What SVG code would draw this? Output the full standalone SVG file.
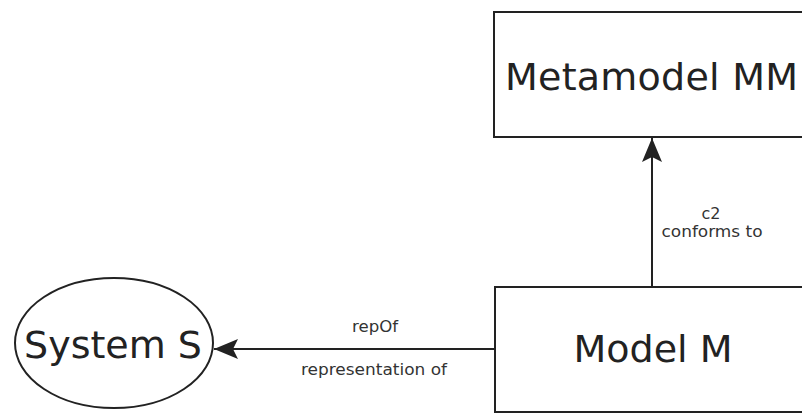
<svg xmlns="http://www.w3.org/2000/svg" width="802" height="419" viewBox="0 0 802 419">
<style>
.box{fill:#fff;stroke:#222;stroke-width:2}
.big{font-family:"DejaVu Sans",sans-serif;font-size:38px;fill:#222}
.lbl{font-family:"DejaVu Sans",sans-serif;font-size:16px;fill:#333}
.conn{stroke:#222;stroke-width:2;fill:none}
</style>
<defs>
<marker id="arr" viewBox="0 0 24 20" refX="24" refY="10" markerWidth="24" markerHeight="20" markerUnits="userSpaceOnUse" orient="auto">
<path d="M0,0 L24,10 L0,20 L5,10 Z" fill="#222"/>
</marker>
</defs>
<rect width="802" height="419" fill="#fff"/>
<g id="metamodel">
<rect class="box" x="494" y="12" width="320" height="125"/>
<text class="big" x="505" y="90" textLength="293">Metamodel MM</text>
</g>
<g id="model">
<rect class="box" x="495" y="287" width="320" height="125"/>
<text class="big" x="653" y="362" text-anchor="middle">Model M</text>
</g>
<g id="system">
<ellipse class="box" cx="114" cy="343" rx="99" ry="65"/>
<text class="big" x="113" y="358" text-anchor="middle">System S</text>
</g>
<g id="connectors">
<line class="conn" x1="495" y1="349" x2="214" y2="349" marker-end="url(#arr)"/>
<line class="conn" x1="652" y1="287" x2="652" y2="138" marker-end="url(#arr)"/>
<text class="lbl" x="375" y="332" text-anchor="middle" textLength="46" lengthAdjust="spacingAndGlyphs">repOf</text>
<text class="lbl" x="374" y="375" text-anchor="middle" textLength="146" lengthAdjust="spacingAndGlyphs">representation of</text>
<text class="lbl" x="711" y="219" text-anchor="middle">c2</text>
<text class="lbl" x="712" y="237" text-anchor="middle" textLength="101" lengthAdjust="spacingAndGlyphs">conforms to</text>
</g>
</svg>
